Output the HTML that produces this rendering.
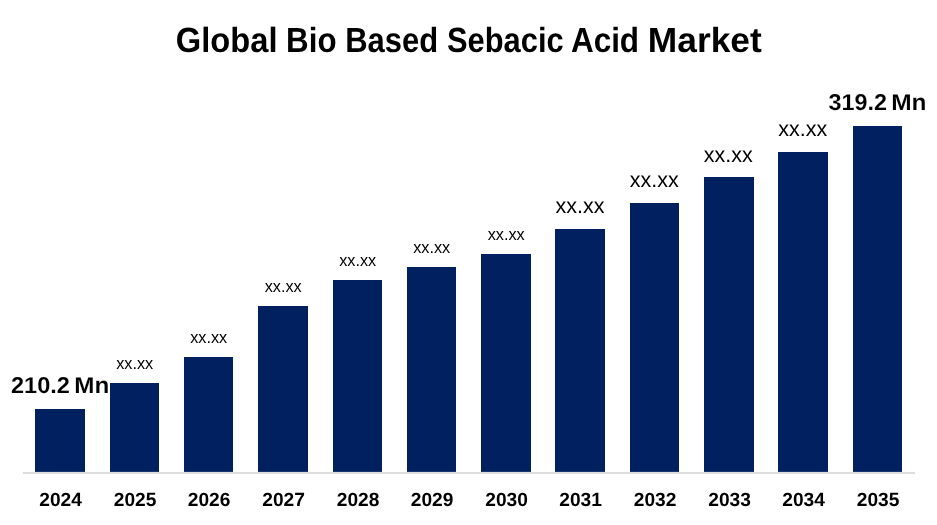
<!DOCTYPE html>
<html lang="en">
<head>
<meta charset="utf-8">
<title>Global Bio Based Sebacic Acid Market</title>
<style>
html,body{margin:0;padding:0;background:#ffffff;}
body{width:937px;height:525px;overflow:hidden;font-family:"Liberation Sans",sans-serif;}
svg{display:block;}
text{font-family:"Liberation Sans",sans-serif;fill:#000000;text-rendering:geometricPrecision;}
.t,.y,.b{font-weight:700;}
.b{stroke:#ffffff;stroke-width:0.1px;}
.l{font-weight:400;}
</style>
</head>
<body>
<svg width="937" height="525" viewBox="0 0 937 525">
<rect x="0" y="0" width="937" height="525" fill="#ffffff"/>
<g>
<text class="t" transform="translate(175.82 52.00) scale(0.9333 1)" font-size="35">Global</text>
<text class="t" transform="translate(286.07 52.00) scale(0.8950 1)" font-size="35">Bio</text>
<text class="t" transform="translate(345.20 52.00) scale(0.8847 1)" font-size="35">Based</text>
<text class="t" transform="translate(446.92 52.00) scale(0.8821 1)" font-size="35">Sebacic</text>
<text class="t" transform="translate(570.91 52.00) scale(0.8990 1)" font-size="35">Acid</text>
<text class="t" transform="translate(647.80 52.00) scale(1.0100 1)" font-size="35">Market</text>
</g>
<rect x="23" y="472" width="892" height="1.9" fill="#dcdcdc"/>
<g fill="#002060">
<rect x="35" y="409.0" width="50" height="62.9"/>
<rect x="110" y="383.0" width="49" height="88.9"/>
<rect x="184" y="357.0" width="49" height="114.9"/>
<rect x="258" y="306.0" width="50" height="165.9"/>
<rect x="333" y="280.0" width="49" height="191.9"/>
<rect x="407" y="267.0" width="49" height="204.9"/>
<rect x="481" y="254.0" width="50" height="217.9"/>
<rect x="555" y="229.0" width="50" height="242.9"/>
<rect x="630" y="203.0" width="49" height="268.9"/>
<rect x="704" y="177.0" width="50" height="294.9"/>
<rect x="778" y="152.0" width="50" height="319.9"/>
<rect x="853" y="126.0" width="49" height="345.9"/>
</g>
<g>
<text class="y" transform="translate(39.23 506) scale(1.0036 1)" font-size="19.1">2024</text>
<text class="y" transform="translate(113.73 506) scale(1.0036 1)" font-size="19.1">2025</text>
<text class="y" transform="translate(187.73 506) scale(1.0036 1)" font-size="19.1">2026</text>
<text class="y" transform="translate(262.23 506) scale(1.0036 1)" font-size="19.1">2027</text>
<text class="y" transform="translate(336.73 506) scale(1.0036 1)" font-size="19.1">2028</text>
<text class="y" transform="translate(410.73 506) scale(1.0036 1)" font-size="19.1">2029</text>
<text class="y" transform="translate(485.23 506) scale(1.0036 1)" font-size="19.1">2030</text>
<text class="y" transform="translate(559.23 506) scale(1.0036 1)" font-size="19.1">2031</text>
<text class="y" transform="translate(633.73 506) scale(1.0036 1)" font-size="19.1">2032</text>
<text class="y" transform="translate(708.23 506) scale(1.0036 1)" font-size="19.1">2033</text>
<text class="y" transform="translate(782.23 506) scale(1.0036 1)" font-size="19.1">2034</text>
<text class="y" transform="translate(856.73 506) scale(1.0036 1)" font-size="19.1">2035</text>
</g>
<text class="l" transform="translate(116.16 369.20) scale(0.9569 1)" font-size="17.0">xx.xx</text>
<text class="l" transform="translate(190.16 343.20) scale(0.9569 1)" font-size="17.0">xx.xx</text>
<text class="l" transform="translate(264.66 292.10) scale(0.9569 1)" font-size="17.0">xx.xx</text>
<text class="l" transform="translate(339.16 266.10) scale(0.9569 1)" font-size="17.0">xx.xx</text>
<text class="l" transform="translate(413.16 253.00) scale(0.9569 1)" font-size="17.0">xx.xx</text>
<text class="l" transform="translate(487.66 240.00) scale(0.9569 1)" font-size="17.0">xx.xx</text>
<text class="l" transform="translate(555.60 212.60) scale(0.9954 1)" font-size="21.6">xx.xx</text>
<text class="l" transform="translate(629.85 186.60) scale(0.9954 1)" font-size="21.6">xx.xx</text>
<text class="l" transform="translate(703.75 161.70) scale(0.9954 1)" font-size="21.6">xx.xx</text>
<text class="l" transform="translate(778.30 135.90) scale(0.9954 1)" font-size="21.6">xx.xx</text>
</g>
<g>
<text class="b" transform="translate(11.03 393.20) scale(1.0237 1)" font-size="23.0">210.2</text>
<text class="b" transform="translate(74.22 393.20) scale(1.0545 1)" font-size="23.0">Mn</text>
<text class="b" transform="translate(828.49 110.20) scale(1.0156 1)" font-size="23.0">319.2</text>
<text class="b" transform="translate(891.20 110.20) scale(1.0645 1)" font-size="23.0">Mn</text>
</g>
</svg>
</body>
</html>
